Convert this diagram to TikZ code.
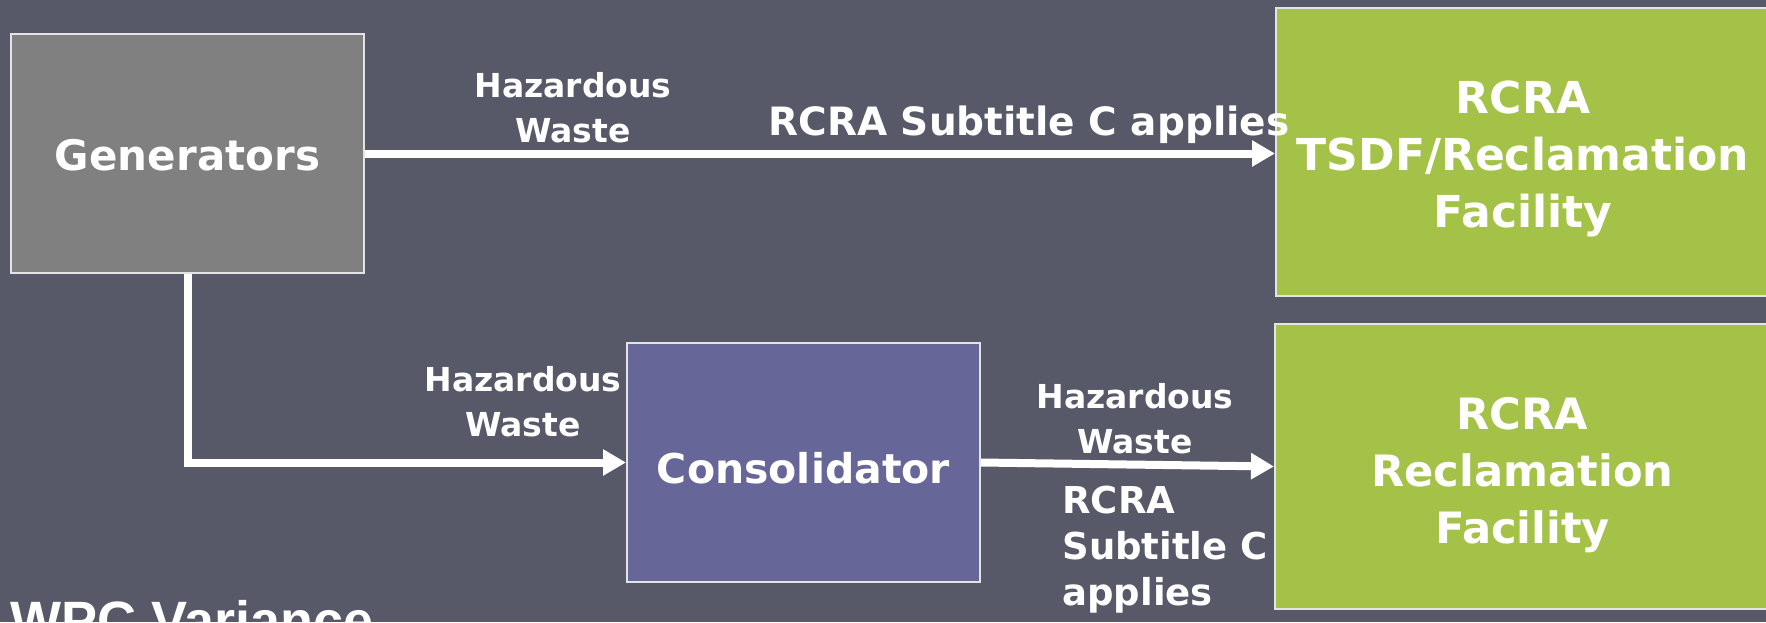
\documentclass[tikz,border=0pt]{standalone}
\usepackage{fontspec}
\setmainfont{DejaVu Sans}
\newfontfamily\wpcfont{Liberation Sans}
\usetikzlibrary{arrows.meta}
\definecolor{bg}{RGB}{87,89,105}
\definecolor{genfill}{RGB}{128,128,128}
\definecolor{consfill}{RGB}{102,102,153}
\definecolor{facfill}{RGB}{165,194,72}
\definecolor{boxedge}{RGB}{228,228,228}
\begin{document}
\begin{tikzpicture}[x=0.5pt,y=-0.5pt,
  box/.style={draw=boxedge,line width=1pt,inner sep=0pt},
  boxtext/.style={text=white,inner sep=0pt,align=center},
  flow/.style={draw=white,line width=4pt,-{Triangle[length=11.5pt,width=12.5pt]}},
  lbl/.style={text=white,inner sep=0pt,align=center},
  smallfont/.style={font=\bfseries\fontsize{16.5}{22.5}\selectfont}
]
\fill[bg] (0,0) rectangle (1766,622);
\useasboundingbox (0,0) rectangle (1766,622);

\node[box,fill=genfill,minimum width=176.5pt,minimum height=119.5pt] (gen) at (187.5,153.5) {};
\node[box,fill=consfill,minimum width=176.5pt,minimum height=119.5pt] (cons) at (803.5,462.5) {};
\node[box,fill=facfill,minimum width=247pt,minimum height=144pt] (tsdf) at (1523,152) {};
\node[box,fill=facfill,minimum width=247.5pt,minimum height=142.5pt] (recl) at (1522.5,466.5) {};

\node[boxtext,font=\bfseries\fontsize{21}{25}\selectfont] (gentext) at ([yshift=-1pt]gen.center) {Generators};
\node[boxtext,font=\bfseries\fontsize{20.5}{25}\selectfont] (constext) at ([yshift=-2.8pt]cons.center) {Consolidator};
\node[boxtext,font=\bfseries\fontsize{22}{28.7}\selectfont] (tsdftext) at ([yshift=-3.5pt]tsdf.center) {RCRA\\TSDF/Reclamation\\Facility};
\node[boxtext,font=\bfseries\fontsize{21.6}{28.5}\selectfont] (recltext) at ([yshift=-4.5pt]recl.center) {RCRA\\Reclamation\\Facility};

\draw[flow] (gen.east) -- (gen.east -| tsdf.west);
\draw[flow] (gen.south) |- (cons.west);
\draw[flow] (cons.east) -- (recl.west);

\node[lbl,smallfont] (hw1) at (573,107.5) {Hazardous\\Waste};
\node[lbl,smallfont] (hw2) at (523,402) {Hazardous\\Waste};
\node[lbl,smallfont] (hw3) at (1135,419) {Hazardous\\Waste};
\node[lbl,anchor=base,font=\bfseries\fontsize{19.5}{23}\selectfont] (sub1) at (1029,135) {RCRA Subtitle C applies};
\node[lbl,align=left,anchor=west,font=\bfseries\fontsize{18.5}{23}\selectfont] (sub2) at (1062,550) {RCRA\\Subtitle C\\applies};
\node[text=white,inner sep=0pt,anchor=base west,font=\wpcfont\bfseries\fontsize{27}{32}\selectfont] (wpc) at (10,639) {WPC Variance};
\end{tikzpicture}
\end{document}
